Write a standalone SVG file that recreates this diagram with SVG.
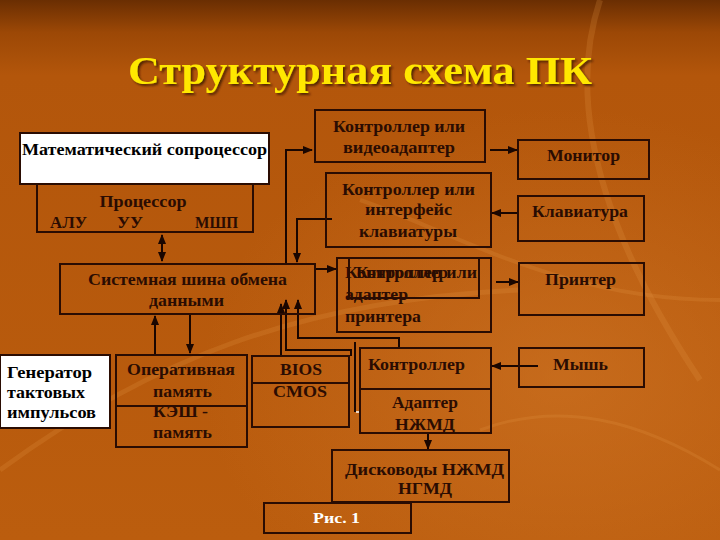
<svg xmlns="http://www.w3.org/2000/svg" width="720" height="540" viewBox="0 0 720 540">
<defs>
<linearGradient id="bg" x1="0" y1="0" x2="0" y2="1">
<stop offset="0" stop-color="#6a2e02"/>
<stop offset="0.06" stop-color="#9c4806"/>
<stop offset="0.14" stop-color="#b3560b"/>
<stop offset="1" stop-color="#bb5d0e"/>
</linearGradient>
<radialGradient id="glow" cx="0.78" cy="0.7" r="0.5">
<stop offset="0" stop-color="#d27828" stop-opacity="0.55"/>
<stop offset="1" stop-color="#d27828" stop-opacity="0"/>
</radialGradient>
<filter id="sh" x="-5%" y="-20%" width="110%" height="140%">
<feDropShadow dx="2" dy="2" stdDeviation="1" flood-color="#3a1400" flood-opacity="0.8"/>
</filter>
<marker id="ah" markerUnits="userSpaceOnUse" markerWidth="10" markerHeight="8" refX="9" refY="4" orient="auto-start-reverse">
<path d="M0,0 L10,4 L0,8 z" fill="#1a0600"/>
</marker>
<style>
.box{fill:none;stroke:#2a0c02;stroke-width:2}
.wbox{fill:#ffffff;stroke:#2a0c02;stroke-width:2}
.t{font-family:"Liberation Serif","DejaVu Serif",serif;font-weight:bold;font-size:16px;fill:#2a0c02}
.tb{font-family:"Liberation Serif","DejaVu Serif",serif;font-weight:bold;font-size:16px;fill:#000000}
.c{fill:none;stroke:#1a0600;stroke-width:2}
.streak{fill:none;stroke:#e39445;stroke-opacity:0.22}
</style>
</defs>
<rect x="0" y="0" width="720" height="540" fill="url(#bg)"/>
<rect x="0" y="0" width="720" height="540" fill="url(#glow)"/>
<g id="decor">
<path class="streak" stroke-width="6" d="M600,0 C560,120 620,260 700,380"/>
<path class="streak" stroke-width="4" d="M360,200 C450,230 560,300 720,300"/>
<path class="streak" stroke-width="5" d="M0,470 C150,360 300,300 520,290"/>
<path class="streak" stroke-width="3" d="M480,430 C560,400 640,420 720,470"/>
</g>
<text x="360" y="84" text-anchor="middle" font-family="'Liberation Serif','DejaVu Serif',serif" font-weight="bold" font-size="41" fill="#ffe800" textLength="464" lengthAdjust="spacingAndGlyphs" filter="url(#sh)">Структурная схема ПК</text>

<g id="connectors">
<path class="c" d="M162,235 V261" marker-start="url(#ah)" marker-end="url(#ah)"/>
<path class="c" d="M286,264 V150 H312" marker-end="url(#ah)"/>
<path class="c" d="M332,219 H297 V262" marker-end="url(#ah)"/>
<path class="c" d="M315,269 H336" marker-end="url(#ah)"/>
<path class="c" d="M490,150 H517" marker-end="url(#ah)"/>
<path class="c" d="M518,213 H492" marker-end="url(#ah)"/>
<path class="c" d="M496,282 H518" marker-end="url(#ah)"/>
<path class="c" d="M538,366 H492" marker-end="url(#ah)"/>
<path class="c" d="M155,355 V316" marker-end="url(#ah)"/>
<path class="c" d="M190,314 V353" marker-end="url(#ah)"/>
<path class="c" d="M281,355 V304" marker-end="url(#ah)"/>
<path class="c" d="M351,356 V350 H286 V300" marker-end="url(#ah)"/>
<path class="c" d="M399,349 V338 H298 V300" marker-end="url(#ah)"/>
<path class="c" d="M355,342 V412"/>
<path d="M356,412 H361" stroke="#ffffff" stroke-width="1.5"/>
<path class="c" d="M428,434 V449" marker-end="url(#ah)"/>
</g>

<g id="processor">
<rect class="box" x="37" y="170" width="216" height="62"/>
<text class="t" x="143" y="207" text-anchor="middle" textLength="87" lengthAdjust="spacingAndGlyphs">Процессор</text>
<text class="t" x="50" y="228" textLength="37" lengthAdjust="spacingAndGlyphs">АЛУ</text>
<text class="t" x="117" y="228" textLength="26" lengthAdjust="spacingAndGlyphs">УУ</text>
<text class="t" x="195" y="228" textLength="43" lengthAdjust="spacingAndGlyphs">МШП</text>
</g>
<g id="coprocessor">
<rect class="wbox" x="20" y="133" width="249" height="51"/>
<text class="tb" x="22" y="155" textLength="245" lengthAdjust="spacingAndGlyphs">Математический сопроцессор</text>
</g>
<g id="bus">
<rect class="box" x="60" y="264" width="255" height="50"/>
<text class="t" x="88" y="285" textLength="199" lengthAdjust="spacingAndGlyphs">Системная шина обмена</text>
<text class="t" x="149" y="306" textLength="75" lengthAdjust="spacingAndGlyphs">данными</text>
</g>
<g id="video">
<rect class="box" x="315" y="110" width="170" height="52"/>
<text class="t" x="333" y="132" textLength="132" lengthAdjust="spacingAndGlyphs">Контроллер или</text>
<text class="t" x="343" y="153" textLength="112" lengthAdjust="spacingAndGlyphs">видеоадаптер</text>
</g>
<g id="monitor">
<rect class="box" x="518" y="140" width="131" height="39"/>
<text class="t" x="547" y="161" textLength="73" lengthAdjust="spacingAndGlyphs">Монитор</text>
</g>
<g id="kbctrl">
<rect class="box" x="326" y="173" width="165" height="74"/>
<text class="t" x="342" y="195" textLength="133" lengthAdjust="spacingAndGlyphs">Контроллер или</text>
<text class="t" x="365" y="215" textLength="87" lengthAdjust="spacingAndGlyphs">интерфейс</text>
<text class="t" x="359" y="237" textLength="98" lengthAdjust="spacingAndGlyphs">клавиатуры</text>
</g>
<g id="keyboard">
<rect class="box" x="518" y="196" width="126" height="45"/>
<text class="t" x="532" y="217" textLength="96" lengthAdjust="spacingAndGlyphs">Клавиатура</text>
</g>
<g id="prnctrl">
<rect class="box" x="337" y="258" width="154" height="74"/>
<rect class="box" x="349" y="258" width="130" height="40"/>
<text class="t" x="345" y="278" textLength="132" lengthAdjust="spacingAndGlyphs">Контроллер или</text>
<text class="t" x="356" y="278" textLength="92" lengthAdjust="spacingAndGlyphs">Контроллер</text>
<text class="t" x="345" y="300" textLength="63" lengthAdjust="spacingAndGlyphs">адаптер</text>
<text class="t" x="345" y="322" textLength="76" lengthAdjust="spacingAndGlyphs">принтера</text>
</g>
<g id="printer">
<rect class="box" x="519" y="263" width="125" height="52"/>
<text class="t" x="545" y="285" textLength="71" lengthAdjust="spacingAndGlyphs">Принтер</text>
</g>
<g id="mouse">
<rect class="box" x="519" y="348" width="125" height="39"/>
<text class="t" x="553" y="370" textLength="55" lengthAdjust="spacingAndGlyphs">Мышь</text>
</g>
<g id="fdd">
<rect class="box" x="360" y="348" width="131" height="85"/>
<line class="box" x1="360" y1="389" x2="491" y2="389"/>
<text class="t" x="368" y="370" textLength="97" lengthAdjust="spacingAndGlyphs">Контроллер</text>
<text class="t" x="392" y="408" textLength="66" lengthAdjust="spacingAndGlyphs">Адаптер</text>
<text class="t" x="395" y="430" textLength="60" lengthAdjust="spacingAndGlyphs">НЖМД</text>
</g>
<g id="drives">
<rect class="box" x="332" y="450" width="177" height="52"/>
<text class="t" x="345" y="475" textLength="159" lengthAdjust="spacingAndGlyphs">Дисководы НЖМД</text>
<text class="t" x="398" y="494" textLength="54" lengthAdjust="spacingAndGlyphs">НГМД</text>
</g>
<g id="caption">
<rect class="box" x="264" y="503" width="147" height="30"/>
<text x="313" y="523" font-family="'Liberation Serif','DejaVu Serif',serif" font-weight="bold" font-size="15" fill="#ffffff" textLength="47" lengthAdjust="spacingAndGlyphs">Рис. 1</text>
</g>
<g id="generator">
<rect class="wbox" x="0" y="355" width="110" height="73"/>
<text class="tb" x="7" y="378" textLength="85" lengthAdjust="spacingAndGlyphs">Генератор</text>
<text class="tb" x="7" y="398" textLength="78" lengthAdjust="spacingAndGlyphs">тактовых</text>
<text class="tb" x="7" y="418" textLength="89" lengthAdjust="spacingAndGlyphs">импульсов</text>
</g>
<g id="ram">
<rect class="box" x="116" y="355" width="131" height="92"/>
<line class="box" x1="116" y1="406" x2="247" y2="406"/>
<text class="t" x="127" y="375" textLength="108" lengthAdjust="spacingAndGlyphs">Оперативная</text>
<text class="t" x="153" y="397" textLength="59" lengthAdjust="spacingAndGlyphs">память</text>
<text class="t" x="153" y="417" textLength="55" lengthAdjust="spacingAndGlyphs">КЭШ -</text>
<text class="t" x="153" y="438" textLength="59" lengthAdjust="spacingAndGlyphs">память</text>
</g>
<g id="bios">
<rect class="box" x="252" y="356" width="97" height="71"/>
<line class="box" x1="252" y1="383" x2="349" y2="383"/>
<text class="t" x="280" y="375" textLength="42" lengthAdjust="spacingAndGlyphs">BIOS</text>
<text class="t" x="273" y="397" textLength="54" lengthAdjust="spacingAndGlyphs">CMOS</text>
</g>
</svg>
